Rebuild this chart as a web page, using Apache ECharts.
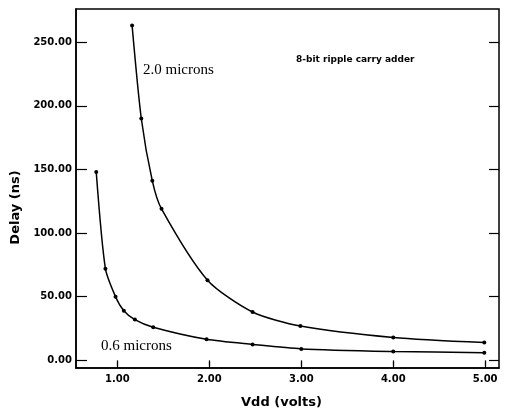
<!DOCTYPE html>
<html>
<head>
<meta charset="utf-8">
<script src="https://cdn.jsdelivr.net/npm/echarts@6/dist/echarts.min.js"></script>
<style>
  html, body { margin: 0; padding: 0; background: #fff; }
  #chart { width: 509px; height: 414px; }
</style>
</head>
<body>
<div id="chart"></div>
<script>
// delay vs supply voltage, 8-bit ripple carry adder
const xTicks = [1, 2, 3, 4, 5];
const yTicks = [0, 50, 100, 150, 200, 250];
// [Vdd (volts), Delay (ns)]
const micron20 = [[1.16, 263], [1.26, 190], [1.38, 141], [1.48, 119], [1.98, 63], [2.47, 38], [2.99, 27], [4.0, 18], [4.99, 14]];
const micron06 = [[0.77, 148], [0.87, 72], [0.98, 50], [1.07, 39], [1.19, 32], [1.39, 26], [1.97, 16.5], [2.47, 12.5], [3.0, 9], [4.0, 7], [4.99, 6]];

const chart = echarts.init(document.getElementById('chart'));

const boldFont = 'DejaVu Sans';

const lineSeries = function (name, data) {
  return {
    name: name,
    type: 'line',
    data: data,
    smooth: 0.25,
    symbol: 'circle',
    symbolSize: 4,
    itemStyle: { color: '#000' },
    lineStyle: { color: '#000', width: 1.5 },
    silent: true
  };
};

const option = {
  animation: false,
  backgroundColor: '#fff',
  grid: {
    left: 76, right: 10, top: 9, bottom: 44,
    show: true, borderColor: '#000', borderWidth: 1.5
  },
  xAxis: [
    {
      type: 'value', position: 'bottom', min: 0.55, max: 5.15,
      name: 'Vdd (volts)', nameLocation: 'middle', nameGap: 28,
      nameTextStyle: { fontFamily: boldFont, fontWeight: 'bold', fontSize: 13, color: '#000', padding: [0, 12, 0, 0] },
      axisLine: { show: true, onZero: false, lineStyle: { color: '#000', width: 1.5 } },
      axisTick: { inside: true, length: 6, customValues: xTicks, lineStyle: { color: '#000', width: 1.2 } },
      axisLabel: { customValues: xTicks, margin: 6, fontFamily: boldFont, fontWeight: 'bold', fontSize: 10, color: '#000',
        formatter: v => v.toFixed(2) },
      splitLine: { show: false }
    },
    {
      type: 'value', position: 'top', min: 0.55, max: 5.15,
      axisLine: { show: false },
      axisTick: { inside: true, length: 5, customValues: xTicks, lineStyle: { color: '#000', width: 1.2 } },
      axisLabel: { show: false },
      splitLine: { show: false }
    }
  ],
  yAxis: [
    {
      type: 'value', position: 'left', min: -6, max: 276,
      name: 'Delay (ns)', nameLocation: 'middle', nameGap: 49,
      nameTextStyle: { fontFamily: boldFont, fontWeight: 'bold', fontSize: 13, color: '#000', padding: [0, 38, 0, 0] },
      axisLine: { show: true, onZero: false, lineStyle: { color: '#000', width: 1.5 } },
      axisTick: { inside: true, length: 11, customValues: yTicks, lineStyle: { color: '#000', width: 1.2 } },
      axisLabel: { customValues: yTicks, margin: 4, fontFamily: boldFont, fontWeight: 'bold', fontSize: 10, color: '#000',
        formatter: v => v.toFixed(2) },
      splitLine: { show: false }
    },
    {
      type: 'value', position: 'right', min: -6, max: 276,
      axisLine: { show: false },
      axisTick: { inside: true, length: 10, customValues: yTicks, lineStyle: { color: '#000', width: 1.2 } },
      axisLabel: { show: false },
      splitLine: { show: false }
    }
  ],
  series: [
    lineSeries('2.0 microns', micron20),
    lineSeries('0.6 microns', micron06)
  ],
  graphic: [
    { type: 'text', left: 143, top: 63,
      style: { text: '2.0 microns', font: '15px "Liberation Serif"', fill: '#000' } },
    { type: 'text', left: 101, top: 339,
      style: { text: '0.6 microns', font: '15px "Liberation Serif"', fill: '#000' } },
    { type: 'text', left: 296, top: 55,
      style: { text: '8-bit ripple carry adder', font: 'bold 9px "DejaVu Sans"', fill: '#000' } }
  ]
};

chart.setOption(option);
</script>
</body>
</html>
